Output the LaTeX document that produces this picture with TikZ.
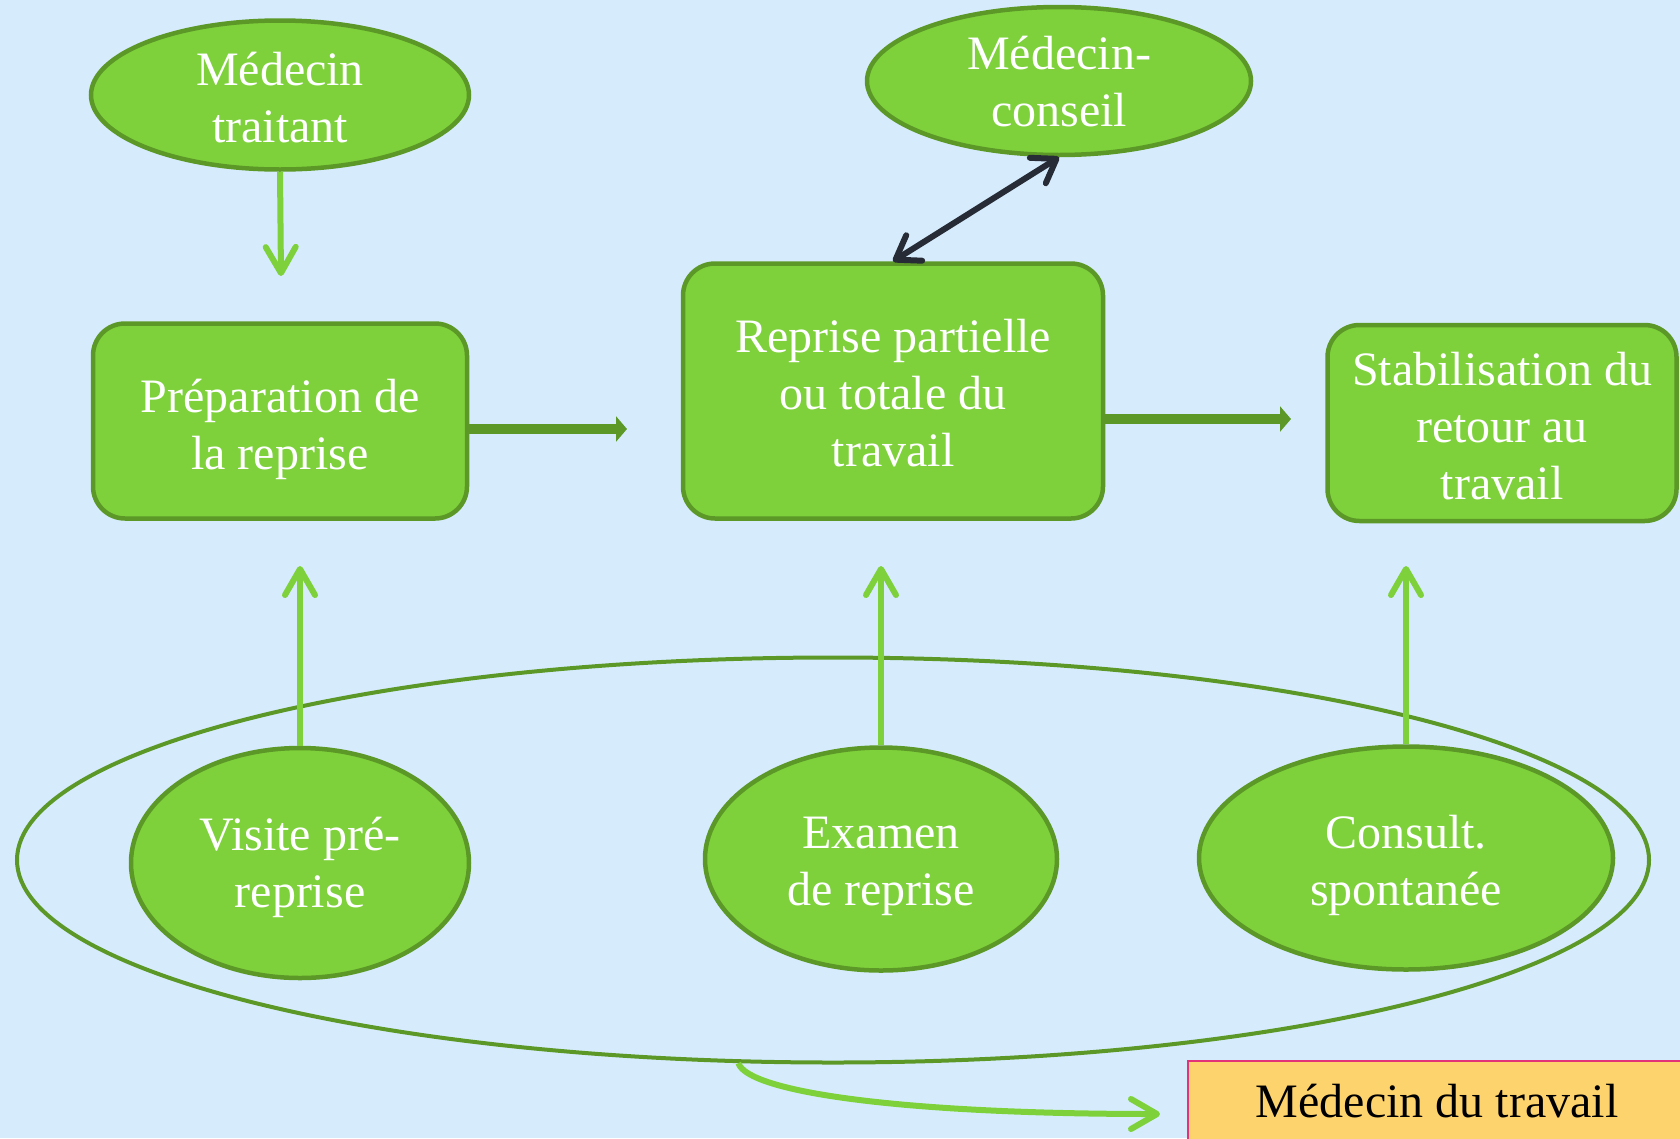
\documentclass[tikz,border=0pt]{standalone}
\usepackage{fontspec}
\setmainfont{Liberation Serif}
\usetikzlibrary{positioning}
\usetikzlibrary{shapes.geometric}
\usetikzlibrary{arrows.meta}

\definecolor{fondbleu}{RGB}{214,236,253}
\definecolor{vertclair}{RGB}{126,209,59}
\definecolor{vertfonce}{RGB}{92,152,40}
\definecolor{gristrait}{RGB}{38,43,54}
\definecolor{jaunecase}{RGB}{253,211,110}
\definecolor{rosebord}{RGB}{226,50,120}

% texte centre, abaisse de #1
\newcommand{\lignes}[2]{\raisebox{-#1}[\height][\depth]{\begin{tabular}{@{}c@{}}#2\end{tabular}}}

\tikzset{
  acteur/.style={ellipse, draw=vertfonce, fill=vertclair, line width=4.5pt, text=white,
    inner sep=-40pt, font=\fontsize{48}{57}\selectfont},
  etape/.style={rectangle, rounded corners=32pt, draw=vertfonce, fill=vertclair, line width=4.5pt,
    text=white, inner sep=0pt, font=\fontsize{48}{57}\selectfont},
  lien/.style={draw=vertclair, line width=6pt, -{Straight Barb[length=26pt,width=30pt,round]}},
  flux/.style={draw=vertfonce, line width=9.5pt, -{Triangle[length=11pt,width=25pt]}},
}

\begin{document}
\begin{tikzpicture}[x=1pt,y=-1pt]
\useasboundingbox (0,0) rectangle (1680,1138);
\fill[fondbleu] (0,0) rectangle (1680,1138);

% les etapes
\node[etape, minimum width=374pt, minimum height=195pt] (prep) at (280,421) {\lignes{9pt}{Préparation de\\la reprise}};
\node[etape, minimum width=420pt, minimum height=255pt] (rep) at (893,391) {\lignes{7pt}{Reprise partielle\\ou totale du\\travail}};
\node[etape, minimum width=349pt, minimum height=196pt] (stab) at (1502,423) {\lignes{8pt}{Stabilisation du\\retour au\\travail}};

% les medecins
\node[acteur, minimum width=378pt, minimum height=149pt] (mt) at (280,95) {\lignes{8pt}{Médecin\\traitant}};
\node[acteur, minimum width=384pt, minimum height=148pt] (mc) at (1059,81) {\lignes{6pt}{Médecin-\\conseil}};

\node[ellipse, draw=vertfonce, line width=4pt, minimum width=1632pt, minimum height=405pt] (tout) at (833,860) {};
\node[acteur, minimum width=338pt, minimum height=230pt] (visite) at (300,863) {\lignes{5pt}{Visite pré-\\reprise}};
\node[acteur, minimum width=352pt, minimum height=223pt] (examen) at (881,859) {\lignes{7pt}{Examen\\de reprise}};
\node[acteur, minimum width=414pt, minimum height=223pt] (consult) at (1406,858) {\lignes{8pt}{Consult.\\spontanée}};

\coordinate (pmt) at (281,276);
\coordinate (pvis) at (300,566);
\coordinate (pexa) at (881,566);
\coordinate (pcon) at (1406,566);
\coordinate (fprep) at (627,429);
\coordinate (frep) at (1291,419);
\coordinate (pmdt) at (1160,1114);

\draw[lien] (mt.south) -- (pmt);
\draw[lien] (visite.north) -- (pvis);
\draw[lien] (examen.north) -- (pexa);
\draw[lien] (consult.north) -- (pcon);
\draw[flux] (prep.east |- fprep) -- (fprep);
\draw[flux] (rep.east |- frep) -- (frep);
\draw[gristrait, line width=6pt, {Straight Barb[length=22pt,width=30pt,round]}-{Straight Barb[length=22pt,width=30pt,round]}] (rep.north) -- (mc.south);

% medecin du travail
\filldraw[fill=jaunecase, draw=rosebord, line width=2pt] (1188,1061) rectangle (1710,1170);
\node[font=\fontsize{48}{57}\selectfont] (mdt) at (1437,1101) {Médecin du travail};
\draw[lien] (tout.245) .. controls (748,1092) and (900,1114) .. (pmdt);
\end{tikzpicture}
\end{document}
